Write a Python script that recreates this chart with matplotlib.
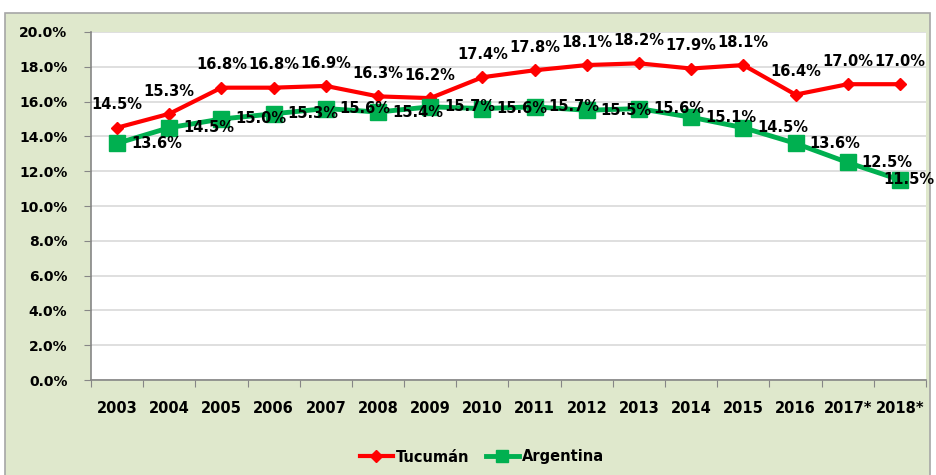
import matplotlib.pyplot as plt
from matplotlib.patches import Rectangle
from matplotlib.ticker import FuncFormatter, MultipleLocator
from matplotlib.lines import Line2D

plt.rcParams['font.family'] = ['Liberation Sans Narrow', 'DejaVu Sans']
plt.rcParams['font.weight'] = 'bold'

years = ['2003', '2004', '2005', '2006', '2007', '2008', '2009', '2010',
         '2011', '2012', '2013', '2014', '2015', '2016', '2017*', '2018*']
tucuman = [14.5, 15.3, 16.8, 16.8, 16.9, 16.3, 16.2, 17.4,
           17.8, 18.1, 18.2, 17.9, 18.1, 16.4, 17.0, 17.0]
argentina = [13.6, 14.5, 15.0, 15.3, 15.6, 15.4, 15.7, 15.6,
             15.7, 15.5, 15.6, 15.1, 14.5, 13.6, 12.5, 11.5]

W, H = 937, 475
fig = plt.figure(figsize=(W / 100, H / 100), dpi=100)

# green panel behind the chart
fig.patches.append(Rectangle((5 / W, -0.01), 925 / W, (H - 13) / H + 0.01,
                             transform=fig.transFigure, facecolor='#DFE8CC',
                             edgecolor='#A6A6A6', linewidth=1.2, zorder=-10))

ax = fig.add_axes([91 / W, (H - 380) / H, (926 - 91) / W, (380 - 32) / H])
ax.set_facecolor('white')

x = range(len(years))
ax.plot(x, tucuman, color='#FF0000', lw=3, marker='D', ms=6,
        label='Tucumán', zorder=3)
ax.plot(x, argentina, color='#00B050', lw=3.5, marker='s', ms=11,
        label='Argentina', zorder=3)

for i, v in enumerate(tucuman):
    ax.annotate(f'{v:.1f}%', (i, v), xytext=(0, 11), textcoords='offset points',
                ha='center', va='bottom', fontsize=10.5, fontweight='bold', zorder=5)
for i, v in enumerate(argentina):
    # last label is pushed left so it stays inside the picture
    dx = 10 if i < len(argentina) - 1 else -12
    ax.annotate(f'{v:.1f}%', (i, v), xytext=(dx, 0), textcoords='offset points',
                ha='left', va='center', fontsize=10.5, fontweight='bold', zorder=5,
                annotation_clip=False)

ax.set_xlim(-0.5, len(years) - 0.5)
ax.set_ylim(0, 20)
ax.yaxis.set_major_locator(MultipleLocator(2))
ax.yaxis.set_major_formatter(FuncFormatter(lambda v, p: f'{v:.1f}%'))
ax.grid(axis='y', color='#D9D9D9', lw=1.2)
ax.set_axisbelow(True)

ax.set_xticks([i - 0.5 for i in range(len(years) + 1)], minor=False)
ax.set_xticklabels([])
ax.set_xticks(list(x), minor=True)
ax.set_xticklabels(years, minor=True, fontsize=10.5, fontweight='bold')
ax.tick_params(axis='x', which='major', length=5, color='#868686', direction='out')
ax.tick_params(axis='x', which='minor', length=0, pad=15)
ax.tick_params(axis='y', length=5, color='#868686', labelsize=10, pad=12)

for s in ['top', 'right']:
    ax.spines[s].set_visible(False)
for s in ['left', 'bottom']:
    ax.spines[s].set_color('#868686')
    ax.spines[s].set_linewidth(1.2)

handles = [Line2D([], [], color='#FF0000', lw=3, marker='D', ms=6),
           Line2D([], [], color='#00B050', lw=3.5, marker='s', ms=9)]
fig.legend(handles, ['Tucumán', 'Argentina'], loc='center',
           bbox_to_anchor=(482 / W, (H - 457) / H), ncol=2, frameon=False,
           handlelength=2.2, handletextpad=0.2, columnspacing=1.2,
           prop={'size': 10.5, 'weight': 'bold'})

fig.savefig('out.png', dpi=100)
